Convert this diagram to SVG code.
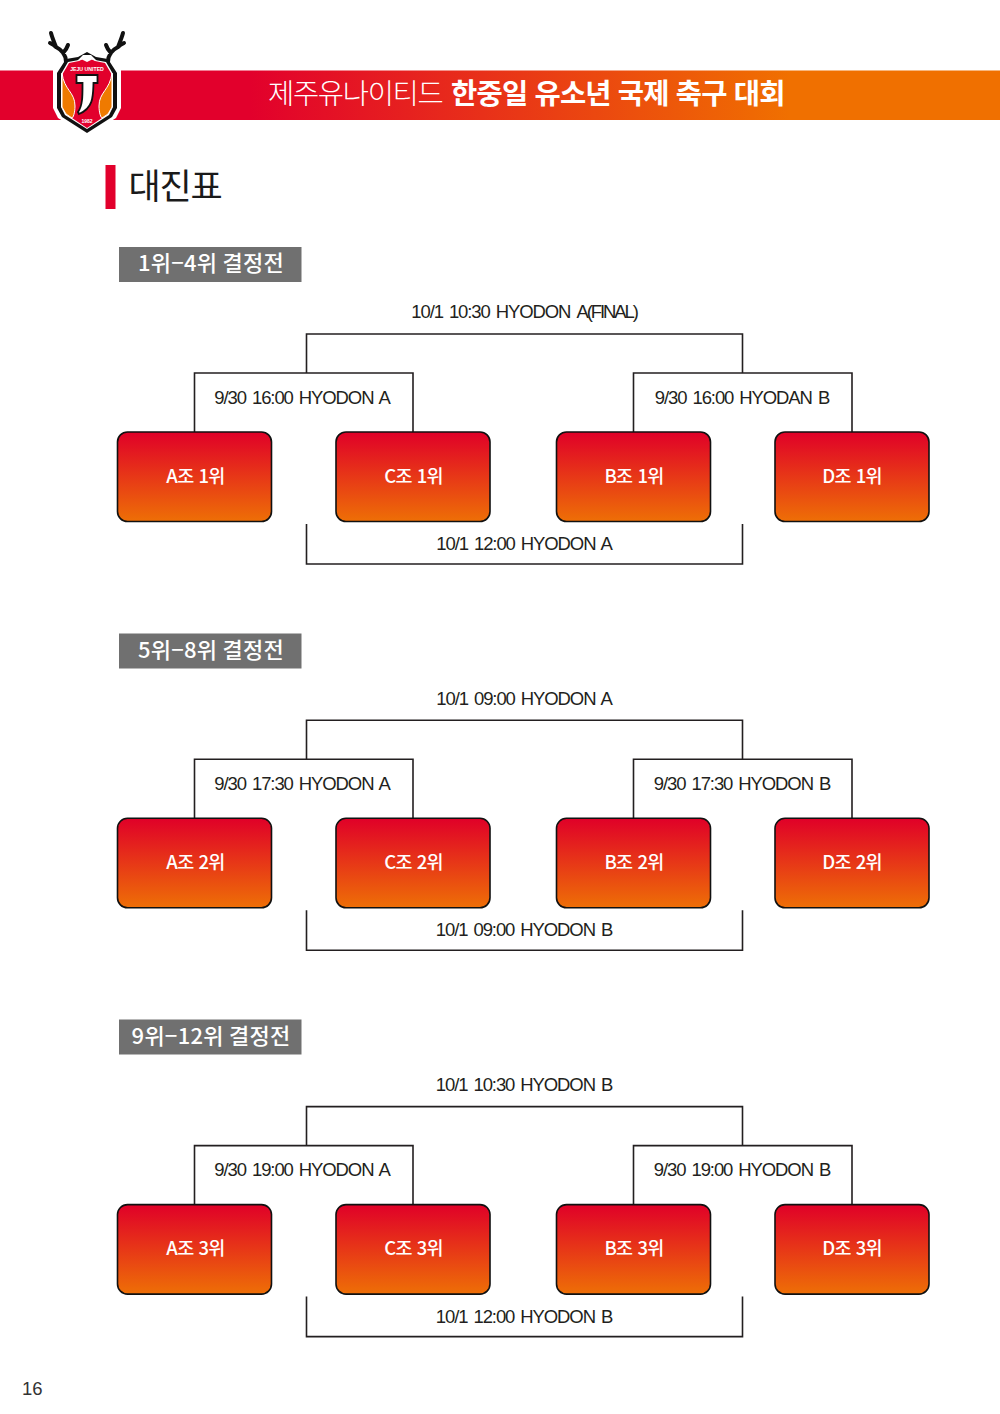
<svg xmlns="http://www.w3.org/2000/svg" width="1000" height="1414" viewBox="0 0 1000 1414">
<style>
text{font-family:"Noto Sans CJK KR","Liberation Sans",sans-serif}
.lat{font-family:"Liberation Sans","Noto Sans CJK KR",sans-serif;font-size:18.5px;fill:#231f20;text-anchor:middle;letter-spacing:-1.1px;word-spacing:2px}
.box{fill:url(#bg);stroke:#111;stroke-width:1.6}
.nl{font-size:18.5px;fill:#fff;font-weight:500;text-anchor:middle;letter-spacing:-.7px;word-spacing:1.5px}
.hd{fill:#707070}
.ht{font-size:22px;fill:#fff;font-weight:500;text-anchor:middle;letter-spacing:.25px}
.c{fill:none;stroke:#231f20;stroke-width:1.6}
</style>
<defs>
<linearGradient id="bg" x1="0" y1="0" x2="0" y2="1"><stop offset="0" stop-color="#e00028"/><stop offset="1" stop-color="#ee6f06"/></linearGradient>
<linearGradient id="ban" gradientUnits="userSpaceOnUse" x1="250" y1="0" x2="790" y2="0"><stop offset="0" stop-color="#e2002c"/><stop offset="1" stop-color="#f07000"/></linearGradient>
<g id="bracket">
<path class="c" d="M306.500 373V334H742.500V373M194.500 432V373H413V432M633.500 432V373H852V432M306.500 524V564H742.500V524"/>
</g>
</defs>
<rect id="banner" x="0" y="70.500" width="1000" height="49.500" fill="url(#ban)"/>
<g id="title"><text x="268" y="104" font-size="28.500" fill="#fff" letter-spacing="-1.300" font-weight="300">제주유나이티드<tspan x="451" font-weight="700" letter-spacing="-.75" word-spacing="1.300">한중일 유소년 국제 축구 대회</tspan></text></g>
<g id="logo">
<path d="M53 70H121V108L116 118L87 136L58 118L53 108Z" fill="#fff"/>
<path d="M66 62C66 55 62 50 56 47C54 42 52 37 51 33M56 47C54 45 52 44 50 43M63 53C65 51 67 48 68 45M108 62C108 55 112 50 118 47C120 42 122 37 123 33M118 47C120 45 122 44 124 43M111 53C109 51 107 48 106 45" fill="none" stroke="#fff" stroke-width="6.500" stroke-linecap="round"/>
<path d="M66 62C66 55 62 50 56 47C54 42 52 37 51 33M56 47C54 45 52 44 50 43M63 53C65 51 67 48 68 45M108 62C108 55 112 50 118 47C120 42 122 37 123 33M118 47C120 45 122 44 124 43M111 53C109 51 107 48 106 45" fill="none" stroke="#111" stroke-width="4" stroke-linecap="round" stroke-linejoin="round"/>
<path d="M87 52L78 57L66 59L57 73V108L62 117L87 133L112 117L117 108V73L108 59L96 57Z" fill="#111"/>
<path d="M87 56L79 60L68 62L61 74V107L65 115L87 129L109 115L113 107V74L106 62L95 60Z" fill="#fff"/>
<path d="M87 57L79 61L69 63L62 75V107L66 114L87 128L108 114L112 107V75L105 63L95 61Z" fill="#e2002c"/>
<path d="M62 73C64 90 75 92 75 106C75 113 73 118 72 118L66 114L62 107Z" fill="#ef7a00" stroke="#fff" stroke-width="1"/>
<path d="M112 73C110 90 99 92 99 106C99 113 101 118 102 118L108 114L112 107Z" fill="#ef7a00" stroke="#fff" stroke-width="1"/>
<path d="M77 61L83 55H91L97 61L92 59.500L87 62L82 59.500Z" fill="#fff"/>
<path d="M76.500 75H97.500V83H93.500C93 95 94 108 79 114L78 112C83 105 82.500 94 82.500 83H76.500Z" fill="#fff" stroke="#111" stroke-width="1.800"/>
<text x="87" y="70.500" font-size="5.200" font-weight="700" fill="#fff" text-anchor="middle" style="font-family:'Liberation Sans'">JEJU UNITED</text>
<text x="87" y="122.500" font-size="5" font-weight="700" fill="#fff" text-anchor="middle" style="font-family:'Liberation Sans'">1982</text>
</g>
<rect id="section-bar" x="105.500" y="165" width="10" height="44" fill="#e2002c"/>
<g id="section-title"><text x="128.500" y="199" font-size="35" fill="#1a1a1a" letter-spacing="-1.200" font-weight="400">대진표</text></g>
<g id="connectors">
<use href="#bracket"/>
<use href="#bracket" y="386.300"/>
<use href="#bracket" y="772.600"/>
</g>
<g id="h1"><rect class="hd" x="119" y="247" width="182.500" height="35"/><text class="ht" x="211" y="271">1위−4위 결정전</text></g>
<g id="h2"><rect class="hd" x="119" y="633.500" width="182.500" height="35"/><text class="ht" x="211" y="657.500">5위−8위 결정전</text></g>
<g id="h3"><rect class="hd" x="119" y="1019.500" width="182.500" height="35"/><text class="ht" x="211" y="1043.500">9위−12위 결정전</text></g>
<g id="labels1">
<text class="lat" x="524" y="318">10/1 10:30 HYODON <tspan letter-spacing="-2.100">A(FINAL)</tspan></text>
<text class="lat" x="302" y="403.500">9/30 16:00 HYODON A</text>
<text class="lat" x="742" y="403.500">9/30 16:00 HYODAN B</text>
<text class="lat" x="524" y="549.500">10/1 12:00 HYODON A</text>
</g>
<g id="labels2">
<text class="lat" x="524" y="704.500">10/1 09:00 HYODON A</text>
<text class="lat" x="302" y="790">9/30 17:30 HYODON A</text>
<text class="lat" x="742" y="790">9/30 17:30 HYODON B</text>
<text class="lat" x="524" y="936">10/1 09:00 HYODON B</text>
</g>
<g id="labels3">
<text class="lat" x="524" y="1091">10/1 10:30 HYODON B</text>
<text class="lat" x="302" y="1176">9/30 19:00 HYODON A</text>
<text class="lat" x="742" y="1176">9/30 19:00 HYODON B</text>
<text class="lat" x="524" y="1322.500">10/1 12:00 HYODON B</text>
</g>
<g id="a1"><rect class="box" x="117.500" y="432" width="154" height="89.500" rx="10"/><text class="nl" x="195.500" y="482.500">A조 1위</text></g>
<g id="c1"><rect class="box" x="336" y="432" width="154" height="89.500" rx="10"/><text class="nl" x="413.500" y="482.500">C조 1위</text></g>
<g id="b1"><rect class="box" x="556.500" y="432" width="154" height="89.500" rx="10"/><text class="nl" x="634" y="482.500">B조 1위</text></g>
<g id="d1"><rect class="box" x="775" y="432" width="154" height="89.500" rx="10"/><text class="nl" x="852" y="482.500">D조 1위</text></g>
<g id="a2"><rect class="box" x="117.500" y="818.300" width="154" height="89.500" rx="10"/><text class="nl" x="195.500" y="868.800">A조 2위</text></g>
<g id="c2"><rect class="box" x="336" y="818.300" width="154" height="89.500" rx="10"/><text class="nl" x="413.500" y="868.800">C조 2위</text></g>
<g id="b2"><rect class="box" x="556.500" y="818.300" width="154" height="89.500" rx="10"/><text class="nl" x="634" y="868.800">B조 2위</text></g>
<g id="d2"><rect class="box" x="775" y="818.300" width="154" height="89.500" rx="10"/><text class="nl" x="852" y="868.800">D조 2위</text></g>
<g id="a3"><rect class="box" x="117.500" y="1204.600" width="154" height="89.500" rx="10"/><text class="nl" x="195.500" y="1255">A조 3위</text></g>
<g id="c3"><rect class="box" x="336" y="1204.600" width="154" height="89.500" rx="10"/><text class="nl" x="413.500" y="1255">C조 3위</text></g>
<g id="b3"><rect class="box" x="556.500" y="1204.600" width="154" height="89.500" rx="10"/><text class="nl" x="634" y="1255">B조 3위</text></g>
<g id="d3"><rect class="box" x="775" y="1204.600" width="154" height="89.500" rx="10"/><text class="nl" x="852" y="1255">D조 3위</text></g>
<text id="page" x="22" y="1395" font-size="18.500" fill="#333" style="font-family:'Liberation Sans',sans-serif">16</text>
</svg>
